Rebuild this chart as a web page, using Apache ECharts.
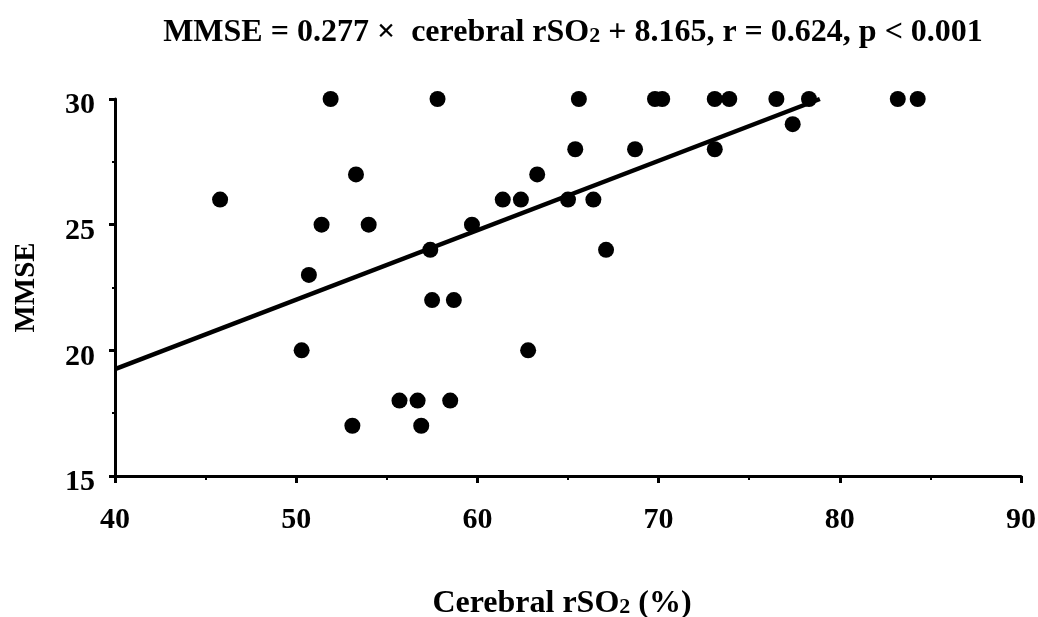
<!DOCTYPE html>
<html>
<head>
<meta charset="utf-8">
<script src="https://cdn.jsdelivr.net/npm/echarts@6/dist/echarts.min.js"></script>
<style>
html,body{margin:0;padding:0;background:#fff;}
#chart{width:1038px;height:617px;}
</style>
</head>
<body>
<div id="chart"></div>
<script>
// Cerebral rSO2 (%) values of each patient
var rso2 = [45.8, 51.9, 57.8, 65.6, 69.8, 70.2, 73.1, 73.9, 76.5, 78.3, 83.2, 84.3,
            65.4, 68.7, 73.1, 77.4,
            53.3, 63.3,
            61.4, 62.4, 65.0, 66.4,
            51.4, 54.0, 59.7,
            57.4, 67.1,
            50.7,
            57.5, 58.7,
            50.3, 62.8,
            55.7, 56.7, 58.5,
            53.1, 56.9];
// MMSE score of each patient
var mmse = [26, 30, 30, 30, 30, 30, 30, 30, 30, 30, 30, 30,
            28, 28, 28, 29,
            27, 27,
            26, 26, 26, 26,
            25, 25, 25,
            24, 24,
            23,
            22, 22,
            20, 20,
            18, 18, 18,
            17, 17];
// Regression line end points (MMSE = 0.277 x rSO2 + 8.165)
var fitX = [40, 78.9];
var fitY = [19.25, 30.0];
// Axis ranges / ticks
var xTicks = [40, 50, 60, 70, 80, 90];
var yTicks = [15, 20, 25, 30];

var FONT = 'Liberation Serif';
var chart = echarts.init(document.getElementById('chart'), null, {renderer: 'canvas'});

var pts = rso2.map(function (x, i) { return [x, mmse[i]]; });
var fit = fitX.map(function (x, i) { return [x, fitY[i]]; });

chart.setOption({
  animation: false,
  backgroundColor: '#ffffff',
  title: {
    text: 'MMSE = 0.277 \u00D7  cerebral rSO{sub|2} + 8.165, r = 0.624, p < 0.001',
    left: 568,
    textAlign: 'center',
    top: 12,
    textStyle: {
      fontFamily: FONT, fontWeight: 'bold', fontSize: 32, color: '#000',
      rich: { sub: { fontFamily: FONT, fontWeight: 'bold', fontSize: 22, color: '#000', verticalAlign: 'bottom', padding: [0, 0, 2, 0] } }
    }
  },
  grid: { left: 115, right: 17, top: 99, bottom: 141, containLabel: false, outerBoundsMode: 'none' },
  xAxis: {
    type: 'value',
    min: xTicks[0], max: xTicks[xTicks.length - 1], interval: 10,
    name: 'Cerebral rSO{sub|2} (%)',
    nameLocation: 'middle',
    nameGap: 112,
    nameTextStyle: {
      fontFamily: FONT, fontWeight: 'bold', fontSize: 32, color: '#000',
      padding: [0, 12, 0, 0],
      rich: { sub: { fontFamily: FONT, fontWeight: 'bold', fontSize: 22, color: '#000', verticalAlign: 'bottom', padding: [0, 0, 2, 0] } }
    },
    axisLine: { show: true, onZero: false, lineStyle: { color: '#000', width: 3 } },
    axisTick: { show: true, inside: false, length: 7, lineStyle: { color: '#000', width: 3 } },
    minorTick: { show: true, splitNumber: 2, length: 4, lineStyle: { color: '#000', width: 2 } },
    splitLine: { show: false },
    axisLabel: { margin: 29, fontFamily: FONT, fontWeight: 'bold', fontSize: 30, color: '#000' }
  },
  yAxis: {
    type: 'value',
    min: yTicks[0], max: yTicks[yTicks.length - 1], interval: 5,
    name: 'MMSE',
    nameLocation: 'middle',
    nameGap: 74,
    nameTextStyle: { fontFamily: FONT, fontWeight: 'bold', fontSize: 29, color: '#000' },
    axisLine: { show: true, onZero: false, lineStyle: { color: '#000', width: 3 } },
    axisTick: { show: true, inside: false, length: 6, lineStyle: { color: '#000', width: 3 } },
    minorTick: { show: true, splitNumber: 2, length: 3, lineStyle: { color: '#000', width: 2 } },
    splitLine: { show: false },
    axisLabel: { margin: 20, fontFamily: FONT, fontWeight: 'bold', fontSize: 30, color: '#000', verticalAlign: 'top', lineHeight: 13 }
  },
  series: [
    {
      type: 'line',
      data: fit,
      symbol: 'none',
      lineStyle: { color: '#000', width: 4.5 },
      z: 2,
      silent: true
    },
    {
      type: 'scatter',
      data: pts,
      symbol: 'circle',
      symbolSize: 16,
      itemStyle: { color: '#000', opacity: 1 },
      z: 3
    }
  ]
});
</script>
</body>
</html>
